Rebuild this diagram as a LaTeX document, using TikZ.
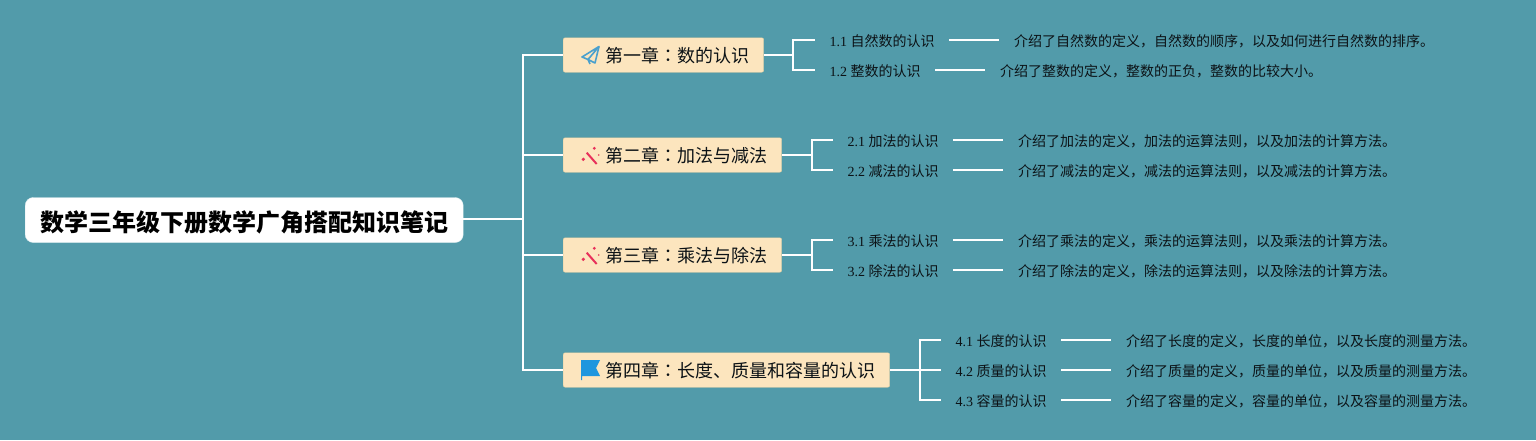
\documentclass[tikz,border=0pt]{standalone}
\usepackage{fontspec}
\setmainfont{Liberation Serif}
\newfontfamily\cjk{Noto Sans CJK SC}
\newfontfamily\cjktc{Noto Sans CJK TC}
\usetikzlibrary{positioning}
\definecolor{bgTeal}{RGB}{82,155,170}
\definecolor{chapFill}{RGB}{252,229,190}
\definecolor{chapEdge}{RGB}{222,205,160}
\definecolor{planeBlue}{RGB}{74,160,205}
\definecolor{wandRed}{RGB}{232,48,90}
\definecolor{flagBlue}{RGB}{30,150,222}
\definecolor{inkDark}{RGB}{12,18,22}
\newcommand{\chapcolon}{{\cjktc ：}}

\tikzset{
    planeicon/.pic={
        \draw[planeBlue, line width=1.6pt, line join=round] (8,-8.5) -- (-9,2) -- (-3,4.5) -- cycle;
        \draw[planeBlue, line width=1.6pt, line join=round] (8,-8.5) -- (4,8) -- (-3,4.5) -- (-1,9);
    },
    wandicon/.pic={
        \draw[wandRed, line width=2pt] (-4.3,-2.3) -- (5.7,9);
        \fill[wandRed] (3.3,-6.7) circle (1.6);
        \fill[wandRed] (-7.7,4.3) circle (1.8);
        \fill[wandRed] (7.7,0) circle (0.8);
    },
    flagicon/.pic={
        \fill[flagBlue] (-10,-10) -- (9,-10) -- (5,-2) -- (9,6) -- (-9,6) -- (-9,10) -- (-10,10) -- cycle;
    }
}

\begin{document}
\begin{tikzpicture}[
    x=1pt, y=-1pt,
    font=\fontsize{14}{16}\selectfont,
    central/.style={rectangle, rounded corners=8pt, draw=white!80!bgTeal, fill=white, text=black, anchor=west, inner xsep=15pt, inner ysep=0pt, minimum height=45pt, text height=23pt, text depth=1pt, font=\fontsize{24}{26}\selectfont\cjk\bfseries},
    chapter/.style={rectangle, rounded corners=2pt, draw=chapEdge, fill=chapFill, text=inkDark, anchor=west, inner xsep=14.5pt, inner ysep=0pt, minimum height=34.5pt, text height=16pt, text depth=1pt, font=\fontsize{18}{20}\selectfont\cjk},
    section/.style={anchor=west, text=inkDark, inner xsep=14.5pt, inner ysep=0pt, text height=12.5pt, text depth=0.5pt},
    note/.style={anchor=west, text=inkDark, inner xsep=15pt, inner ysep=0pt, text height=12.5pt, text depth=0.5pt, font=\fontsize{14}{16}\selectfont\cjk},
    branch/.style={draw=white, line width=1.7pt}
]
    \fill[bgTeal] (0,0) rectangle (1536,440);
    \useasboundingbox (0,0) rectangle (1536,440);

    \node[central] (root) at (25,220) {数学三年级下册数学广角搭配知识笔记};
    \coordinate (spine) at (523,219.2);

    \node[chapter] (ch_1) at (563,55) {\hspace*{27.5pt}第一章\chapcolon 数的认识};
    \node[chapter] (ch_2) at (563,155) {\hspace*{27.5pt}第二章\chapcolon 加法与减法};
    \node[chapter] (ch_3) at (563,255) {\hspace*{27.5pt}第三章\chapcolon 乘法与除法};
    \node[chapter] (ch_4) at (563,370) {\hspace*{27.5pt}第四章\chapcolon 长度、质量和容量的认识};

    \pic at (591,55) {planeicon};
    \pic at (591,155) {wandicon};
    \pic at (591,255) {wandicon};
    \pic at (591,370) {flagicon};

    \draw[branch] (root.east |- spine) -- (spine);
    \draw[branch] (spine) |- (ch_1.west);
    \draw[branch] (spine) |- (ch_2.west);
    \draw[branch] (spine) |- (ch_3.west);
    \draw[branch] (spine) |- (ch_4.west);

    % chapter 1
    \node[section] (sec_11) at (815,40) {1.1 {\cjk 自然数的认识}};
    \node[section] (sec_12) at (815,70) {1.2 {\cjk 整数的认识}};
    \node[note] (note_11) at (999,40) {介绍了自然数的定义，自然数的顺序，以及如何进行自然数的排序。};
    \node[note] (note_12) at (985,70) {介绍了整数的定义，整数的正负，整数的比较大小。};
    \coordinate (fork_1) at (793,55);
    \draw[branch] (ch_1.east) -- (fork_1);
    \draw[branch] (fork_1) |- (sec_11.west);
    \draw[branch] (fork_1) |- (sec_12.west);
    \draw[branch] (sec_11.east) -- (note_11.west);
    \draw[branch] (sec_12.east) -- (note_12.west);

    % chapter 2
    \node[section] (sec_21) at (833,140) {2.1 {\cjk 加法的认识}};
    \node[section] (sec_22) at (833,170) {2.2 {\cjk 减法的认识}};
    \node[note] (note_21) at (1003,140) {介绍了加法的定义，加法的运算法则，以及加法的计算方法。};
    \node[note] (note_22) at (1003,170) {介绍了减法的定义，减法的运算法则，以及减法的计算方法。};
    \coordinate (fork_2) at (812,155);
    \draw[branch] (ch_2.east) -- (fork_2);
    \draw[branch] (fork_2) |- (sec_21.west);
    \draw[branch] (fork_2) |- (sec_22.west);
    \draw[branch] (sec_21.east) -- (note_21.west);
    \draw[branch] (sec_22.east) -- (note_22.west);

    % chapter 3
    \node[section] (sec_31) at (833,240) {3.1 {\cjk 乘法的认识}};
    \node[section] (sec_32) at (833,270) {3.2 {\cjk 除法的认识}};
    \node[note] (note_31) at (1003,240) {介绍了乘法的定义，乘法的运算法则，以及乘法的计算方法。};
    \node[note] (note_32) at (1003,270) {介绍了除法的定义，除法的运算法则，以及除法的计算方法。};
    \coordinate (fork_3) at (812,255);
    \draw[branch] (ch_3.east) -- (fork_3);
    \draw[branch] (fork_3) |- (sec_31.west);
    \draw[branch] (fork_3) |- (sec_32.west);
    \draw[branch] (sec_31.east) -- (note_31.west);
    \draw[branch] (sec_32.east) -- (note_32.west);

    % chapter 4
    \node[section] (sec_41) at (941,340) {4.1 {\cjk 长度的认识}};
    \node[section] (sec_42) at (941,370) {4.2 {\cjk 质量的认识}};
    \node[section] (sec_43) at (941,400) {4.3 {\cjk 容量的认识}};
    \node[note] (note_41) at (1111,340) {介绍了长度的定义，长度的单位，以及长度的测量方法。};
    \node[note] (note_42) at (1111,370) {介绍了质量的定义，质量的单位，以及质量的测量方法。};
    \node[note] (note_43) at (1111,400) {介绍了容量的定义，容量的单位，以及容量的测量方法。};
    \coordinate (fork_4) at (920,370);
    \draw[branch] (ch_4.east) -- (sec_42.west);
    \draw[branch] (fork_4) |- (sec_41.west);
    \draw[branch] (fork_4) |- (sec_43.west);
    \draw[branch] (sec_41.east) -- (note_41.west);
    \draw[branch] (sec_42.east) -- (note_42.west);
    \draw[branch] (sec_43.east) -- (note_43.west);
\end{tikzpicture}
\end{document}
